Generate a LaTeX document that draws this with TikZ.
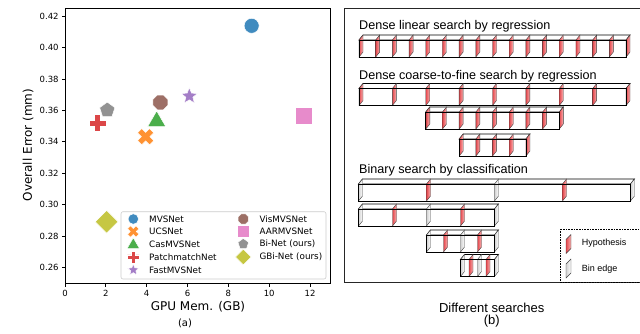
\documentclass[tikz,border=0pt]{standalone}
\usepackage{fontspec}
\setmainfont{DejaVu Sans}
\newfontfamily\arialfont{Liberation Sans}
\usetikzlibrary{shapes.geometric}

\definecolor{tabblue}{HTML}{1F77B4}
\definecolor{taborange}{HTML}{FF7F0E}
\definecolor{tabgreen}{HTML}{2CA02C}
\definecolor{tabred}{HTML}{D62728}
\definecolor{tabpurple}{HTML}{9467BD}
\definecolor{tabbrown}{HTML}{8C564B}
\definecolor{tabpink}{HTML}{E377C2}
\definecolor{tabgray}{HTML}{7F7F7F}
\definecolor{tabolive}{HTML}{BCBD22}
\definecolor{hypdark}{HTML}{E5484D}
\definecolor{hyplight}{HTML}{F7B5B5}

\def\dx{4}
\def\dy{5}
\def\bh{17}

\tikzset{
  mk/.style={draw=white, line width=0.5pt, fill opacity=0.85, inner sep=0pt},
  tickl/.style={font=\fontsize{8.5}{10}\selectfont, inner sep=2.5pt},
  axlabel/.style={font=\fontsize{12}{14}\selectfont},
  legtext/.style={font=\fontsize{8.8}{10}\selectfont, anchor=west, inner sep=0pt},
  paneltitle/.style={font=\arialfont\fontsize{12.6}{14}\selectfont, anchor=base west, inner sep=0pt},
  keytext/.style={font=\arialfont\fontsize{9}{10}\selectfont, anchor=west, inner sep=0pt},
  hyp/.style={draw=black!75, line width=0.4pt, left color=hypdark, right color=hyplight},
  binedge/.style={draw=black!75, line width=0.4pt, left color=black!18, right color=white},
  plusmark/.pic={\path[pic actions] (-3,-8.5) -- (3,-8.5) -- (3,-3) -- (8.5,-3) -- (8.5,3) -- (3,3)
    -- (3,8.5) -- (-3,8.5) -- (-3,3) -- (-8.5,3) -- (-8.5,-3) -- (-3,-3) -- cycle;}
}

% one plane at x, top y, style
\newcommand{\planeat}[3]{\path[#3] (#1,#2+\bh) -- ++(0,-\bh) -- ++(\dx,-\dy) -- ++(0,\bh) -- cycle;}

% left x, bin width, bins, top y, even plane, odd plane
\newcommand{\binrow}[6]{%
  \draw[line width=0.7pt, fill=white] (#1,#4) -- ++(\dx,-\dy) -- ({#1+#2*#3+\dx},#4-\dy) -- ({#1+#2*#3},#4) -- cycle;
  \fill[white] (#1,#4) rectangle ({#1+#2*#3},#4+\bh);
  \foreach \i in {0,...,#3} {
    \pgfmathtruncatemacro{\odd}{mod(\i,2)}
    \ifnum\odd=0 \planeat{#1+\i*#2}{#4}{#5}\else\planeat{#1+\i*#2}{#4}{#6}\fi
  }
  \draw[line width=0.7pt] (#1,#4) rectangle ({#1+#2*#3},#4+\bh);
}

\begin{document}
\begin{tikzpicture}[x=1pt,y=-1pt]
\useasboundingbox (0,0) rectangle (640,333);

% (a) memory against error
\begin{scope}[x=20.42pt,y=1573pt,xshift=65pt,yshift=-676.7pt,line width=0.8pt]
  \foreach \t in {0,2,...,12}
    \draw (\t,0.25) -- ++(0,-3.5pt) node[below,tickl] (xt\t) {\t};
  \foreach \n in {26,28,...,42}
    \draw (0,0.\n) -- ++(-3.5pt,0) node[left,tickl] (yt\n) {0.\n};
  \coordinate (p-mvs) at (9.14,0.4138);
  \coordinate (p-ucs) at (3.95,0.3433);
  \coordinate (p-cas) at (4.49,0.353);
  \coordinate (p-pm) at (1.60,0.352);
  \coordinate (p-fast) at (6.09,0.3691);
  \coordinate (p-vis) at (4.67,0.3651);
  \coordinate (p-aar) at (11.69,0.3566);
  \coordinate (p-bi) at (2.07,0.3602);
  \coordinate (p-gbi) at (2.04,0.2892);
  \draw (0,0.25) rectangle (13,0.425);
\end{scope}

\node[mk,circle,minimum size=15pt,fill=tabblue] (m-mvs) at (p-mvs) {};
\pic[mk,fill=taborange,rotate=45] at (p-ucs) {plusmark};
\node[mk,regular polygon,regular polygon sides=3,minimum size=21pt,fill=tabgreen] (m-cas) at (p-cas) {};
\pic[mk,fill=tabred] at (p-pm) {plusmark};
\node[mk,star,star points=5,star point ratio=2.3,minimum size=17pt,fill=tabpurple] (m-fast) at (p-fast) {};
\node[mk,regular polygon,regular polygon sides=8,minimum size=16pt,fill=tabbrown] (m-vis) at (p-vis) {};
\node[mk,rectangle,minimum size=17pt,fill=tabpink] (m-aar) at (p-aar) {};
\node[mk,regular polygon,regular polygon sides=5,minimum size=16pt,fill=tabgray] (m-bi) at (p-bi) {};
\node[mk,diamond,minimum size=23pt,fill=tabolive] (m-gbi) at (p-gbi) {};

\node[axlabel,rotate=90] (ylab) at (28,145) {Overall Error (mm)};
\node[axlabel] (xlab) at (198,306.7) {GPU Mem. (GB)};
\node[font=\fontsize{10}{12}\selectfont] (suba) at (185,323.5) {(a)};

% legend
\draw[black!20,fill=white,fill opacity=0.8,rounded corners=2pt,line width=0.6pt] (121,211.7) rectangle (326,279);
\node[mk,circle,minimum size=10.5pt,fill=tabblue] (k-mvs) at (133.3,219) {};
\node[legtext] (t-mvs) at (149,219) {MVSNet};
\pic[mk,fill=taborange,rotate=45,scale=0.7] at (133.3,231.5) {plusmark};
\node[legtext] (t-ucs) at (149,231.5) {UCSNet};
\node[mk,regular polygon,regular polygon sides=3,minimum size=14.5pt,fill=tabgreen] (k-cas) at (133.3,245) {};
\node[legtext] (t-cas) at (149,244) {CasMVSNet};
\pic[mk,fill=tabred,scale=0.7] at (133.3,257) {plusmark};
\node[legtext] (t-pm) at (149,257) {PatchmatchNet};
\node[mk,star,star points=5,star point ratio=2.3,minimum size=12pt,fill=tabpurple] (k-fast) at (133.3,270) {};
\node[legtext] (t-fast) at (149,270) {FastMVSNet};
\node[mk,regular polygon,regular polygon sides=8,minimum size=11.2pt,fill=tabbrown] (k-vis) at (243.3,219) {};
\node[legtext] (t-vis) at (259.3,219) {VisMVSNet};
\node[mk,rectangle,minimum size=12pt,fill=tabpink] (k-aar) at (243.3,231.5) {};
\node[legtext] (t-aar) at (259.3,231.5) {AARMVSNet};
\node[mk,regular polygon,regular polygon sides=5,minimum size=11.2pt,fill=tabgray] (k-bi) at (243.3,244) {};
\node[legtext] (t-bi) at (259.3,244) {Bi-Net (ours)};
\node[mk,diamond,minimum size=16pt,fill=tabolive] (k-gbi) at (243.3,257) {};
\node[legtext] (t-gbi) at (259.3,257) {GBi-Net (ours)};

% (b) searches
\draw[line width=0.7pt,black!85] (344,8) rectangle (660,282.5);
\node[paneltitle] (dense) at (359,29.5) {Dense linear search by regression};
\binrow{359}{16.69}{16}{40}{hyp}{hyp}
\node[paneltitle] (coarse) at (359,79) {Dense coarse-to-fine search by regression};
\binrow{359}{33.38}{8}{88.5}{hyp}{hyp}
\binrow{425.8}{16.69}{8}{112}{hyp}{hyp}
\binrow{459.2}{16.69}{4}{139}{hyp}{hyp}
\node[paneltitle] (binary) at (359,173.5) {Binary search by classification};
\binrow{358.5}{68}{4}{184}{binedge}{hyp}
\binrow{358.5}{34}{4}{209}{binedge}{hyp}
\binrow{426.5}{17}{4}{235}{binedge}{hyp}
\binrow{460.5}{8.5}{4}{259.5}{binedge}{hyp}

% key
\draw[densely dotted,line width=0.6pt] (560.5,229) rectangle (650,282.5);
\path[hyp] (566,253.5) -- ++(0,-14) -- ++(5,-5) -- ++(0,14) -- cycle;
\node[keytext] (khyp) at (581.7,243.3) {Hypothesis};
\path[binedge] (566,278) -- ++(0,-14) -- ++(5,-5) -- ++(0,14) -- cycle;
\node[keytext] (kbin) at (581.7,269.3) {Bin edge};

\node[font=\arialfont\fontsize{13}{15}\selectfont] (diff) at (491.7,307.5) {Different searches};
\node[font=\arialfont\fontsize{13}{15}\selectfont] (subb) at (491.7,321.5) {(b)};
\end{tikzpicture}
\end{document}
